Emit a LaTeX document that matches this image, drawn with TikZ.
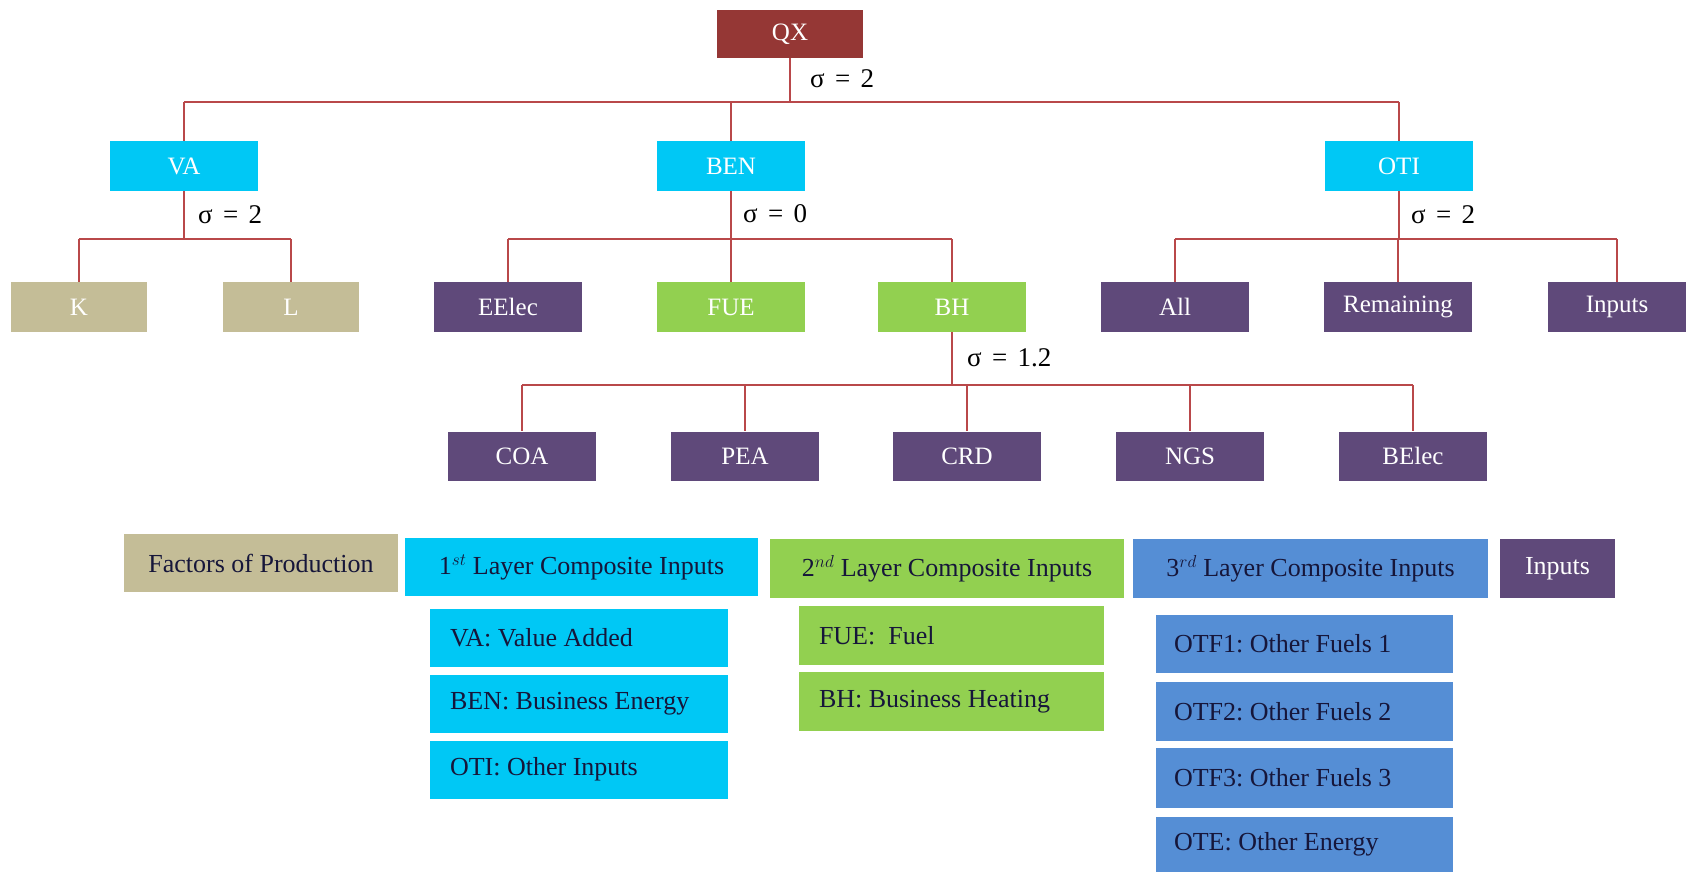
\documentclass[tikz,border=0pt]{standalone}
\usepackage{fontspec}
\setmainfont{Liberation Serif}
\frenchspacing
\definecolor{qxred}{HTML}{953735}
\definecolor{cyanc}{HTML}{00C8F5}
\definecolor{tanc}{HTML}{C4BD97}
\definecolor{purp}{HTML}{5F497A}
\definecolor{greenc}{HTML}{92D050}
\definecolor{bluec}{HTML}{558ED5}
\definecolor{linered}{HTML}{B9484A}
\definecolor{darktext}{HTML}{16163A}
\newcommand{\sg}[1]{σ\hspace{0.38em}=\hspace{0.38em}#1}
\begin{document}
\begin{tikzpicture}[x=1pt,y=-1pt,
  box/.style={minimum width=148pt, minimum height=50pt, inner sep=0pt, text=white, font=\fontsize{25}{28}\selectfont},
  qxbox/.style={box, fill=qxred, minimum width=146pt, minimum height=48pt},
  lone/.style={box, fill=cyanc},
  tanbox/.style={box, fill=tanc, minimum width=136pt},
  purpbox/.style={box, fill=purp},
  grbox/.style={box, fill=greenc},
  conn/.style={draw=linered, line width=1.6pt},
  sig/.style={anchor=west, inner sep=0pt, font=\fontsize{27}{30}\selectfont},
  leghead/.style={minimum height=58pt, inner sep=0pt, text=darktext, font=\fontsize{26}{30}\selectfont},
  legsub/.style={minimum height=58pt, inner xsep=20pt, inner ysep=0pt, align=flush left, text=darktext, font=\fontsize{26}{30}\selectfont}
]
\useasboundingbox (0,0) rectangle (1686,872);

% tree nodes
\node[qxbox] (QX) at (790,34) {QX};
\node[lone] (VA) at (184,166) {VA};
\node[lone] (BEN) at (731,166) {BEN};
\node[lone] (OTI) at (1399,166) {OTI};
\node[tanbox] (K) at (79,307) {K};
\node[tanbox] (L) at (291,307) {L};
\node[purpbox] (EElec) at (508,307) {EElec};
\node[grbox] (FUE) at (731,307) {FUE};
\node[grbox] (BH) at (952,307) {BH};
\node[purpbox] (All) at (1175,307) {All};
\node[purpbox] (Rem) at (1398,307) {Remaining};
\node[purpbox, minimum width=138pt] (Inp) at (1617,307) {Inputs};
\node[purpbox, minimum height=49pt] (COA) at (522,456) {COA};
\node[purpbox, minimum height=49pt] (PEA) at (745,456) {PEA};
\node[purpbox, minimum height=49pt] (CRD) at (967,456) {CRD};
\node[purpbox, minimum height=49pt] (NGS) at (1190,456) {NGS};
\node[purpbox, minimum height=49pt] (BElec) at (1413,456) {BElec};

% bar coordinates
\coordinate (b0) at (0,102);
\coordinate (b1) at (0,239);
\coordinate (b2) at (0,385);

% QX tree
\draw[conn] (QX.south) -- (QX.south |- b0);
\draw[conn] (VA.north |- b0) -- (OTI.north |- b0);
\draw[conn] (VA.north |- b0) -- (VA.north);
\draw[conn] (BEN.north |- b0) -- (BEN.north);
\draw[conn] (OTI.north |- b0) -- (OTI.north);
% VA tree
\draw[conn] (VA.south) -- (VA.south |- b1);
\draw[conn] (K.north |- b1) -- (L.north |- b1);
\draw[conn] (K.north |- b1) -- (K.north);
\draw[conn] (L.north |- b1) -- (L.north);
% BEN tree
\draw[conn] (BEN.south) -- (BEN.south |- b1);
\draw[conn] (EElec.north |- b1) -- (BH.north |- b1);
\draw[conn] (EElec.north |- b1) -- (EElec.north);
\draw[conn] (FUE.north |- b1) -- (FUE.north);
\draw[conn] (BH.north |- b1) -- (BH.north);
% OTI tree
\draw[conn] (OTI.south) -- (OTI.south |- b1);
\draw[conn] (All.north |- b1) -- (Inp.north |- b1);
\draw[conn] (All.north |- b1) -- (All.north);
\draw[conn] (Rem.north |- b1) -- (Rem.north);
\draw[conn] (Inp.north |- b1) -- (Inp.north);
% BH tree
\draw[conn] (BH.south) -- (BH.south |- b2);
\draw[conn] (COA.north |- b2) -- (BElec.north |- b2);
\draw[conn] (COA.north |- b2) -- (COA.north);
\draw[conn] (PEA.north |- b2) -- (PEA.north);
\draw[conn] (CRD.north |- b2) -- (CRD.north);
\draw[conn] (NGS.north |- b2) -- (NGS.north);
\draw[conn] (BElec.north |- b2) -- (BElec.north);

% sigma labels
\node[sig] (s0) at (810,79) {\sg{2}};
\node[sig] (s1) at (198,215) {\sg{2}};
\node[sig] (s2) at (743,214) {\sg{0}};
\node[sig] (s3) at (1411,215) {\sg{2}};
\node[sig] (s4) at (967,358) {\sg{1.2}};

% legend headers
\node[leghead, fill=tanc, minimum width=274pt] (lfop) at (261,563) {Factors of Production};
\node[leghead, fill=cyanc, minimum width=353pt] (l1) at (581.5,567) {1$^{st}$ Layer Composite Inputs};
\node[leghead, fill=greenc, minimum width=354pt, minimum height=59pt] (l2) at (947,568.5) {2$^{nd}$ Layer Composite Inputs};
\node[leghead, fill=bluec, minimum width=355pt, minimum height=59pt] (l3) at (1310.5,568.5) {3$^{rd}$ Layer Composite Inputs};
\node[leghead, fill=purp, text=white, minimum width=115pt, minimum height=59pt] (lin) at (1557.5,568.5) {Inputs};

% legend sub boxes
\node[legsub, fill=cyanc, text width=258pt] (dVA) at (579,638) {VA: Value Added};
\node[legsub, fill=cyanc, text width=258pt] (dBEN) at (579,703.5) {BEN: Business Energy};
\node[legsub, fill=cyanc, text width=258pt] (dOTI) at (579,769.5) {OTI: Other Inputs};
\node[legsub, fill=greenc, text width=265pt, minimum height=59pt] (dFUE) at (951.5,635.5) {FUE:\ \ Fuel};
\node[legsub, fill=greenc, text width=265pt, minimum height=59pt] (dBH) at (951.5,701.5) {BH: Business Heating};
\node[legsub, fill=bluec, inner xsep=18pt, text width=261pt] (dO1) at (1304.5,644) {OTF1: Other Fuels 1};
\node[legsub, fill=bluec, inner xsep=18pt, text width=261pt, minimum height=59pt] (dO2) at (1304.5,711.5) {OTF2: Other Fuels 2};
\node[legsub, fill=bluec, inner xsep=18pt, text width=261pt, minimum height=60pt] (dO3) at (1304.5,778) {OTF3: Other Fuels 3};
\node[legsub, fill=bluec, inner xsep=18pt, text width=261pt, minimum height=55pt] (dOE) at (1304.5,844.5) {OTE: Other Energy};
\end{tikzpicture}
\end{document}
